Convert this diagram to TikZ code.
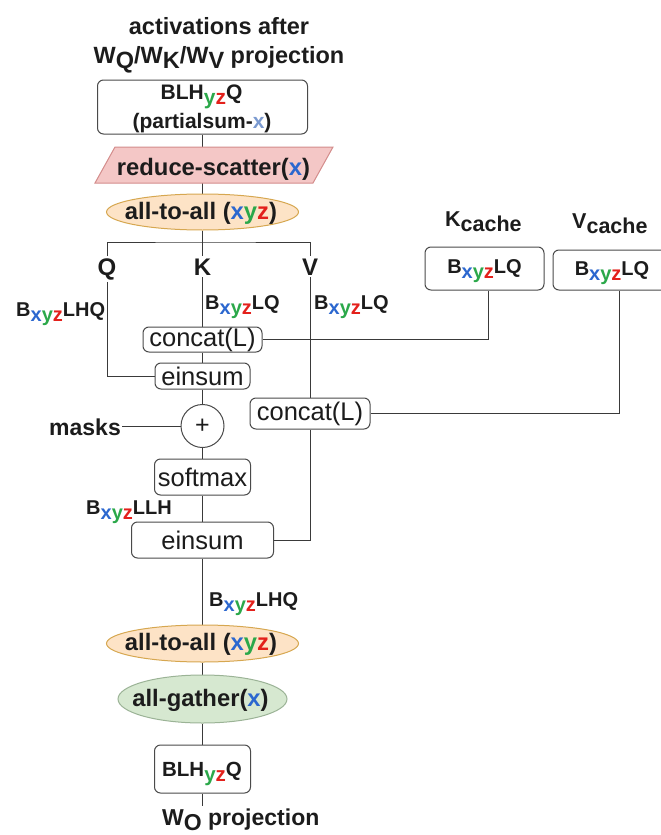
\documentclass[tikz,border=0pt]{standalone}
\usepackage{fontspec}
\setmainfont{Liberation Sans}
\usetikzlibrary{shapes.geometric,backgrounds}

\definecolor{cX}{HTML}{2B67CF}
\definecolor{cY}{HTML}{2BA84A}
\definecolor{cZ}{HTML}{E3201B}
\definecolor{cXl}{HTML}{7B9AD0}
\definecolor{ink}{HTML}{1C1C1C}
\definecolor{wire}{HTML}{3A3A3A}
\definecolor{boxEdge}{HTML}{4A4A4A}
\definecolor{rsFill}{HTML}{F4C7C6}
\definecolor{rsEdge}{HTML}{D38C8B}
\definecolor{aaFill}{HTML}{FDE3C6}
\definecolor{aaEdge}{HTML}{D6A750}
\definecolor{agFill}{HTML}{D6E8D0}
\definecolor{agEdge}{HTML}{9BB396}

% lowered (subscript-style) text at full size
\newcommand\lo[1]{\raisebox{-0.25em}{#1}}
\newcommand\cx{\textcolor{cX}{x}}
\newcommand\cy{\textcolor{cY}{y}}
\newcommand\cz{\textcolor{cZ}{z}}
\newcommand\xyzsub{\lo{\cx\cy\cz}}
\newcommand\yzsub{\lo{\cy\cz}}

\begin{document}
\begin{tikzpicture}[x=1pt,y=-1pt,
  every node/.style={text=ink},
  fs/.style={font=\fontsize{#1}{#1}\selectfont\bfseries},
  opfont/.style={font=\fontsize{25.5}{30}\selectfont},
  box/.style={draw=boxEdge, line width=1pt, rounded corners=6pt, fill=white, inner sep=0pt},
  opbox/.style={box, opfont},
  wires/.style={draw=wire, line width=1pt},
  a2aell/.style={ellipse, draw=aaEdge, fill=aaFill, line width=1pt, inner sep=0pt},
  agell/.style={ellipse, draw=agEdge, fill=agFill, line width=1pt, inner sep=0pt},
  tag/.style={fs=20, inner sep=1pt, anchor=base west}
]
\useasboundingbox (0,0) rectangle (661,835);

% heading
\node[fs=23.5, anchor=base, inner sep=0pt] (title1) at (219,34) {activations after};
\node[fs=23.5, anchor=base, inner sep=0pt] (title2) at (219,63) {W\lo{Q}/W\lo{K}/W\lo{V} projection};

% input activations
\node[box, minimum width=210, minimum height=54] (act) at (202.5,107) {};
\node[fs=21, anchor=base, inner sep=0pt] (actA) at (201.5,99) {BLH\yzsub Q};
\node[fs=21, anchor=base, inner sep=0pt] (actB) at (202,128) {(partialsum-\textcolor{cXl}{x})};

% reduce-scatter parallelogram
\filldraw[fill=rsFill, draw=rsEdge, line width=1pt]
  (95,183) -- (115,147) -- (333,147) -- (313,183) -- cycle;
\node[fs=23.8, anchor=base, inner sep=0pt] (rs) at (213.5,175) {reduce-scatter(\textcolor{cX}{x})};

% all-to-all
\node[a2aell, minimum width=192, minimum height=36] (a2a) at (202.5,212) {};
\node[fs=23.8, inner sep=0pt] (a2aT) at (201,213) {all-to-all (\cx\cy\cz)};

% Q K V labels
\node[fs=24, anchor=base, inner sep=2pt] (Q) at (107,275) {Q};
\node[fs=24, anchor=base, inner sep=2pt] (K) at (202.5,275) {K};
\node[fs=24, anchor=base, inner sep=2pt] (V) at (310,275) {V};
\coordinate (hub) at (202.5,242);

% shape labels
\node[tag] (tQ) at (15,316) {B\xyzsub LHQ};
\node[tag] (tK) at (204,309) {B\xyzsub LQ};
\node[tag] (tV) at (313,309) {B\xyzsub LQ};

% caches
\node[fs=21.5, anchor=base west, inner sep=0pt] (kcL) at (445,226) {K\lo{cache}};
\node[fs=21.5, anchor=base west, inner sep=0pt] (vcL) at (572,228) {V\lo{cache}};
\node[box, minimum width=119, minimum height=43] (kc) at (484.5,268.5) {};
\node[fs=20, anchor=base, inner sep=0pt] (kcT) at (484.5,273) {B\xyzsub LQ};
\node[box, minimum width=118, minimum height=40] (vc) at (612,270) {};
\node[fs=20, anchor=base, inner sep=0pt] (vcT) at (612,275) {B\xyzsub LQ};

% attention ops
\node[opbox, minimum width=119, minimum height=25] (concK) at (202.5,339.5) {concat(L)};
\node[opbox, minimum width=95, minimum height=26] (ein1) at (202.5,376) {einsum};
\node[circle, draw=boxEdge, line width=1pt, fill=white, minimum size=43, inner sep=0pt,
      font=\fontsize{25}{30}\selectfont] (plus) at (202.5,426) {+};
\node[fs=23, anchor=base west, inner sep=1pt] (masks) at (48,435) {masks};
\node[opbox, minimum width=120, minimum height=31] (concV) at (310,413.5) {concat(L)};
\node[opbox, minimum width=96, minimum height=36] (soft) at (202.5,477) {softmax};
\node[tag] (tS) at (85,514) {B\xyzsub LLH};
\node[opbox, minimum width=142, minimum height=36] (ein2) at (202.5,540) {einsum};
\node[tag] (tO) at (208,606) {B\xyzsub LHQ};

% output collectives
\node[a2aell, minimum width=192, minimum height=37] (a2b) at (202.5,643.5) {};
\node[fs=23.8, inner sep=0pt] (a2bT) at (201,644.5) {all-to-all (\cx\cy\cz)};
\node[agell, minimum width=169, minimum height=48] (ag) at (202.5,699) {};
\node[fs=23.8, inner sep=0pt] (agT) at (200.5,700) {all-gather(\textcolor{cX}{x})};
\node[box, minimum width=96, minimum height=48] (out) at (202.5,769) {};
\node[fs=20.5, anchor=base, inner sep=0pt] (outT) at (202,776) {BLH\yzsub Q};
\node[fs=23, anchor=base west, inner sep=2pt] (wo) at (160,825) {W\lo{O} projection};

% connectors
\begin{scope}[on background layer]
  \path[wires] (act.south) -- (a2a.north);
  \path[wires] (a2a.south) -- (K.north);
  \path[wires] (Q.north) |- (hub) -| (V.north);
  \path[wires] (Q.south) |- (ein1.west);
  \path[wires] (K.south) -- (concK.north);
  \path[wires] (concK.south) -- (ein1.north);
  \path[wires] (ein1.south) -- (plus.north);
  \path[wires] (plus.south) -- (soft.north);
  \path[wires] (soft.south) -- (ein2.north);
  \path[wires] (masks.east) -- (masks.east -| plus.center);
  \path[wires] (V.south) -- (concV.north);
  \path[wires] (concK.east) -| ([xshift=3.5pt]kc.south);
  \path[wires] (concV.east) -| ([xshift=7pt]vc.south);
  \path[wires] (concV.south) |- (ein2.east);
  \path[wires] (ein2.south) -- (a2b.north);
  \path[wires] (a2b.south) -- (ag.north);
  \path[wires] (ag.south) -- (out.north);
  \path[wires] (out.south) -- (out.south |- wo.north);
\end{scope}
\end{tikzpicture}
\end{document}
